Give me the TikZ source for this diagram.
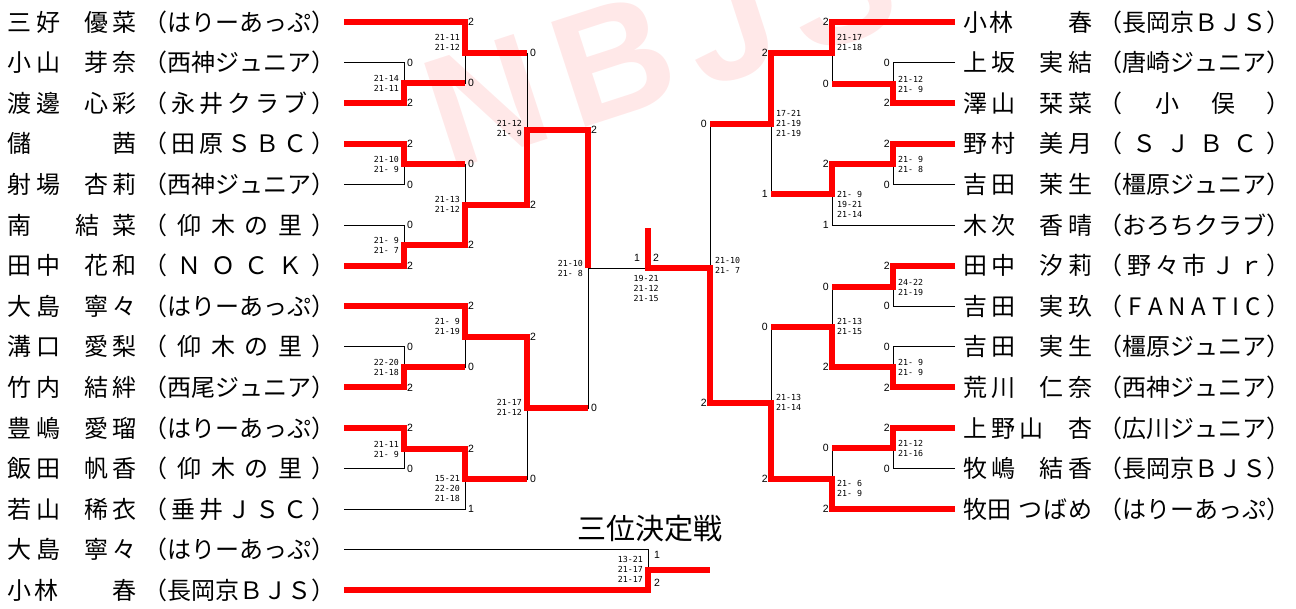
\documentclass[tikz,border=0pt]{standalone}
\usepackage{fontspec}
\setmainfont{Liberation Sans}
\newfontfamily\jpfont{Noto Sans CJK JP}
\newfontfamily\gamefont{DejaVu Sans Mono}

% spread the items of #2 evenly over a box of width #1
\ExplSyntaxOn
\NewDocumentCommand\spreadbox{mm}
  {\hbox_to_wd:nn {#1} {\tl_map_inline:nn {#2} {##1\hfil}\unskip}}
\ExplSyntaxOff
\newcommand\gap{\hspace{16pt}}
\newcommand\player[2]{\spreadbox{129pt}{#1}\hspace{7pt}\spreadbox{192pt}{#2}}

\tikzset{
  plname/.style={inner sep=0pt, outer xsep=8pt, font=\jpfont\fontsize{24}{24}\selectfont},
  win/.style={draw=red, line width=6pt},
  lose/.style={draw=black, line width=0.9pt},
  pt/.style={inner sep=0pt, font=\fontsize{10.5}{10.5}\selectfont},
  ptl/.style={pt, anchor=west, xshift=3pt},
  ptr/.style={pt, anchor=east, xshift=-3pt},
  games/.style={inner sep=0pt, font=\gamefont\fontsize{8.3}{10}\selectfont},
  gsl/.style={games, anchor=east, xshift=-5pt, align=right},
  gsr/.style={games, anchor=west, xshift=5pt, align=left},
  wmark/.style={rotate=18, text=red!9, inner sep=0pt, font=\bfseries\fontsize{160}{160}\selectfont}
}

\begin{document}
\begin{tikzpicture}[x=1pt, y=-1pt, line join=miter]
  \useasboundingbox (0,0) rectangle (1296,608);
  \node[wmark] (wm) at (660,45) {N\hspace{18pt}B\hspace{18pt}J\hspace{18pt}S};

  % players, left
  \node[plname, anchor=west] (pl1) at (0,22) {\player{三好\gap 優菜}{（はりーあっぷ）}};
  \node[plname, anchor=west] (pl2) at (0,62.6) {\player{小山\gap 芽奈}{（西神ジュニア）}};
  \node[plname, anchor=west] (pl3) at (0,103.2) {\player{渡邊\gap 心彩}{（永井クラブ）}};
  \node[plname, anchor=west] (pl4) at (0,143.8) {\player{儲　　　茜}{（田原ＳＢＣ）}};
  \node[plname, anchor=west] (pl5) at (0,184.4) {\player{射場\gap 杏莉}{（西神ジュニア）}};
  \node[plname, anchor=west] (pl6) at (0,225) {\player{南{\hspace{17pt}}結菜}{（仰木の里）}};
  \node[plname, anchor=west] (pl7) at (0,265.6) {\player{田中\gap 花和}{（ＮＯＣＫ）}};
  \node[plname, anchor=west] (pl8) at (0,306.2) {\player{大島\gap 寧々}{（はりーあっぷ）}};
  \node[plname, anchor=west] (pl9) at (0,346.8) {\player{溝口\gap 愛梨}{（仰木の里）}};
  \node[plname, anchor=west] (pl10) at (0,387.4) {\player{竹内\gap 結絆}{（西尾ジュニア）}};
  \node[plname, anchor=west] (pl11) at (0,428) {\player{豊嶋\gap 愛瑠}{（はりーあっぷ）}};
  \node[plname, anchor=west] (pl12) at (0,468.6) {\player{飯田\gap 帆香}{（仰木の里）}};
  \node[plname, anchor=west] (pl13) at (0,509.2) {\player{若山\gap 稀衣}{（垂井ＪＳＣ）}};
  \node[plname, anchor=west] (pl14) at (0,549.8) {\player{大島\gap 寧々}{（はりーあっぷ）}};
  \node[plname, anchor=west] (pl15) at (0,590.4) {\player{小林　　春}{（長岡京ＢＪＳ）}};

  % players, right
  \node[plname, anchor=west] (pr1) at (955,22) {\player{小林　　春}{（長岡京ＢＪＳ）}};
  \node[plname, anchor=west] (pr2) at (955,62.6) {\player{上坂\gap 実結}{（唐崎ジュニア）}};
  \node[plname, anchor=west] (pr3) at (955,103.2) {\player{澤山\gap 栞菜}{（小俣）}};
  \node[plname, anchor=west] (pr4) at (955,143.8) {\player{野村\gap 美月}{（ＳＪＢＣ）}};
  \node[plname, anchor=west] (pr5) at (955,184.4) {\player{吉田\gap 茉生}{（橿原ジュニア）}};
  \node[plname, anchor=west] (pr6) at (955,225) {\player{木次\gap 香晴}{（おろちクラブ）}};
  \node[plname, anchor=west] (pr7) at (955,265.6) {\player{田中\gap 汐莉}{（野々市Ｊｒ）}};
  \node[plname, anchor=west] (pr8) at (955,306.2) {\player{吉田\gap 実玖}{（FANATIC）}};
  \node[plname, anchor=west] (pr9) at (955,346.8) {\player{吉田\gap 実生}{（橿原ジュニア）}};
  \node[plname, anchor=west] (pr10) at (955,387.4) {\player{荒川\gap 仁奈}{（西神ジュニア）}};
  \node[plname, anchor=west] (pr11) at (955,428) {\player{上野山\gap 杏}{（広川ジュニア）}};
  \node[plname, anchor=west] (pr12) at (955,468.6) {\player{牧嶋\gap 結香}{（長岡京ＢＪＳ）}};
  \node[plname, anchor=west] (pr13) at (955,509.2) {\player{牧田{\hspace{6pt}}つばめ}{（はりーあっぷ）}};

  % match points
  \coordinate (m1) at (404,83);
  \coordinate (m2) at (404,164);
  \coordinate (m3) at (404,245);
  \coordinate (m4) at (404,367);
  \coordinate (m5) at (404,449);
  \coordinate (m6) at (465,53);
  \coordinate (m7) at (465,205);
  \coordinate (m8) at (465,337);
  \coordinate (m9) at (465,479);
  \coordinate (m10) at (527,130);
  \coordinate (m11) at (527,408);
  \coordinate (m12) at (588,268);
  \coordinate (n1) at (893,84);
  \coordinate (n2) at (893,164);
  \coordinate (n3) at (893,287);
  \coordinate (n4) at (893,367);
  \coordinate (n5) at (893,448);
  \coordinate (n6) at (832,53);
  \coordinate (n7) at (832,194);
  \coordinate (n8) at (832,327);
  \coordinate (n9) at (832,479);
  \coordinate (n10) at (771,124);
  \coordinate (n11) at (771,403);
  \coordinate (n12) at (710,268);
  \coordinate (fin) at (648,268);
  \coordinate (champ) at (648,228);
  \coordinate (third) at (648,570);
  \coordinate (thirdend) at (710,570);

  % losers
  \draw[lose] (pl2.east) -| (m1);
  \draw[lose] (pl5.east) -| (m2);
  \draw[lose] (pl6.east) -| (m3);
  \draw[lose] (pl9.east) -| (m4);
  \draw[lose] (pl12.east) -| (m5);
  \draw[lose] (m1) -| (m6);
  \draw[lose] (m2) -| (m7);
  \draw[lose] (m4) -| (m8);
  \draw[lose] (pl13.east) -| (m9);
  \draw[lose] (m6) -| (m10);
  \draw[lose] (m9) -| (m11);
  \draw[lose] (m11) -| (m12);
  \draw[lose] (m12) -- (fin);
  \draw[lose] (pl14.east) -| (third);
  \draw[lose] (pr2.west) -| (n1);
  \draw[lose] (pr5.west) -| (n2);
  \draw[lose] (pr8.west) -| (n3);
  \draw[lose] (pr9.west) -| (n4);
  \draw[lose] (pr12.west) -| (n5);
  \draw[lose] (n1) -| (n6);
  \draw[lose] (pr6.west) -| (n7);
  \draw[lose] (n3) -| (n8);
  \draw[lose] (n5) -| (n9);
  \draw[lose] (n7) -| (n10);
  \draw[lose] (n8) -| (n11);
  \draw[lose] (n10) -| (n12);

  % winners
  \draw[win] (pl3.east) -| (m1) -- (m1 -| m6);
  \draw[win] (pl4.east) -| (m2) -- (m2 -| m7);
  \draw[win] (pl7.east) -| (m3) -- (m3 -| m7);
  \draw[win] (pl10.east) -| (m4) -- (m4 -| m8);
  \draw[win] (pl11.east) -| (m5) -- (m5 -| m9);
  \draw[win] (pl1.east) -| (m6) -- (m6 -| m10);
  \draw[win] (m3) -| (m7) -- (m7 -| m10);
  \draw[win] (pl8.east) -| (m8) -- (m8 -| m11);
  \draw[win] (m5) -| (m9) -- (m9 -| m11);
  \draw[win] (m7) -| (m10) -- (m10 -| m12);
  \draw[win] (m8) -| (m11) -- (m11 -| m12);
  \draw[win] (m10) -| (m12);
  \draw[win] (pr3.west) -| (n1) -- (n1 -| n6);
  \draw[win] (pr4.west) -| (n2) -- (n2 -| n7);
  \draw[win] (pr7.west) -| (n3) -- (n3 -| n8);
  \draw[win] (pr10.west) -| (n4) -- (n4 -| n8);
  \draw[win] (pr11.west) -| (n5) -- (n5 -| n9);
  \draw[win] (pr1.west) -| (n6) -- (n6 -| n10);
  \draw[win] (n2) -| (n7) -- (n7 -| n10);
  \draw[win] (n4) -| (n8) -- (n8 -| n11);
  \draw[win] (pr13.west) -| (n9) -- (n9 -| n11);
  \draw[win] (n6) -| (n10) -- (n10 -| n12);
  \draw[win] (n9) -| (n11) -- (n11 -| n12);
  \draw[win] (n11) -| (n12) -- (fin) -- (champ);
  \draw[win] (pl15.east) -| (third) -- (thirdend);

  % points, left
  \node[ptl] (m1a) at (pl2 -| m1) {0};
  \node[ptl] (m1b) at (pl3 -| m1) {2};
  \node[ptl] (m2a) at (pl4 -| m2) {2};
  \node[ptl] (m2b) at (pl5 -| m2) {0};
  \node[ptl] (m3a) at (pl6 -| m3) {0};
  \node[ptl] (m3b) at (pl7 -| m3) {2};
  \node[ptl] (m4a) at (pl9 -| m4) {0};
  \node[ptl] (m4b) at (pl10 -| m4) {2};
  \node[ptl] (m5a) at (pl11 -| m5) {2};
  \node[ptl] (m5b) at (pl12 -| m5) {0};
  \node[ptl] (m6a) at (pl1 -| m6) {2};
  \node[ptl] (m6b) at (m1 -| m6) {0};
  \node[ptl] (m7a) at (m2 -| m7) {0};
  \node[ptl] (m7b) at (m3 -| m7) {2};
  \node[ptl] (m8a) at (pl8 -| m8) {2};
  \node[ptl] (m8b) at (m4 -| m8) {0};
  \node[ptl] (m9a) at (m5 -| m9) {2};
  \node[ptl] (m9b) at (pl13 -| m9) {1};
  \node[ptl] (m10a) at (m6 -| m10) {0};
  \node[ptl] (m10b) at (m7 -| m10) {2};
  \node[ptl] (m11a) at (m8 -| m11) {2};
  \node[ptl] (m11b) at (m9 -| m11) {0};
  \node[ptl] (m12a) at (m10 -| m12) {2};
  \node[ptl] (m12b) at (m11 -| m12) {0};

  % points, right
  \node[ptr] (n1a) at (pr2 -| n1) {0};
  \node[ptr] (n1b) at (pr3 -| n1) {2};
  \node[ptr] (n2a) at (pr4 -| n2) {2};
  \node[ptr] (n2b) at (pr5 -| n2) {0};
  \node[ptr] (n3a) at (pr7 -| n3) {2};
  \node[ptr] (n3b) at (pr8 -| n3) {0};
  \node[ptr] (n4a) at (pr9 -| n4) {0};
  \node[ptr] (n4b) at (pr10 -| n4) {2};
  \node[ptr] (n5a) at (pr11 -| n5) {2};
  \node[ptr] (n5b) at (pr12 -| n5) {0};
  \node[ptr] (n6a) at (pr1 -| n6) {2};
  \node[ptr] (n6b) at (n1 -| n6) {0};
  \node[ptr] (n7a) at (n2 -| n7) {2};
  \node[ptr] (n7b) at (pr6 -| n7) {1};
  \node[ptr] (n8a) at (n3 -| n8) {0};
  \node[ptr] (n8b) at (n4 -| n8) {2};
  \node[ptr] (n9a) at (n5 -| n9) {0};
  \node[ptr] (n9b) at (pr13 -| n9) {2};
  \node[ptr] (n10a) at (n6 -| n10) {2};
  \node[ptr] (n10b) at (n7 -| n10) {1};
  \node[ptr] (n11a) at (n8 -| n11) {0};
  \node[ptr] (n11b) at (n9 -| n11) {2};
  \node[ptr] (n12a) at (n10 -| n12) {0};
  \node[ptr] (n12b) at (n11 -| n12) {2};

  % final and third place
  \node[pt] (fina) at ([xshift=-11pt,yshift=10pt]fin) {1};
  \node[pt] (finb) at ([xshift=8pt,yshift=10pt]fin) {2};
  \node[pt] (thirda) at ([xshift=9pt,yshift=15pt]third) {1};
  \node[pt] (thirdb) at ([xshift=9pt,yshift=-13pt]third) {2};
  \node[font=\jpfont\fontsize{29}{29}\selectfont] (title) at (650,529) {三位決定戦};

  % game scores
  \node[gsl] (m1t) at (m1) {21-14\\21-11};
  \node[gsl] (m2t) at (m2) {21-10\\21- 9};
  \node[gsl] (m3t) at (m3) {21- 9\\21- 7};
  \node[gsl] (m4t) at (m4) {22-20\\21-18};
  \node[gsl] (m5t) at (m5) {21-11\\21- 9};
  \node[gsl] (m6t) at ([yshift=11pt]m6) {21-11\\21-12};
  \node[gsl] (m7t) at ([yshift=1pt]m7) {21-13\\21-12};
  \node[gsl] (m8t) at ([yshift=11pt]m8) {21- 9\\21-19};
  \node[gsl] (m9t) at ([yshift=-9pt]m9) {15-21\\22-20\\21-18};
  \node[gsl] (m10t) at ([yshift=2pt]m10) {21-12\\21- 9};
  \node[gsl] (m11t) at ([yshift=1pt]m11) {21-17\\21-12};
  \node[gsl] (m12t) at (m12) {21-10\\21- 8};
  \node[gsr] (n1t) at (n1) {21-12\\21- 9};
  \node[gsr] (n2t) at (n2) {21- 9\\21- 8};
  \node[gsr] (n3t) at (n3) {24-22\\21-19};
  \node[gsr] (n4t) at (n4) {21- 9\\21- 9};
  \node[gsr] (n5t) at (n5) {21-12\\21-16};
  \node[gsr] (n6t) at ([yshift=11pt]n6) {21-17\\21-18};
  \node[gsr] (n7t) at ([yshift=-10pt]n7) {21- 9\\19-21\\21-14};
  \node[gsr] (n8t) at ([yshift=1pt]n8) {21-13\\21-15};
  \node[gsr] (n9t) at ([yshift=-9pt]n9) {21- 6\\21- 9};
  \node[gsr] (n10t) at ([yshift=1pt]n10) {17-21\\21-19\\21-19};
  \node[gsr] (n11t) at ([yshift=1pt]n11) {21-13\\21-14};
  \node[gsr] (n12t) at ([yshift=3pt]n12) {21-10\\21- 7};
  \node[games, align=center] (fint) at ([xshift=-2pt,yshift=-20pt]fin) {19-21\\21-12\\21-15};
  \node[gsl] (thirdt) at ([yshift=1pt]third) {13-21\\21-17\\21-17};
\end{tikzpicture}
\end{document}
